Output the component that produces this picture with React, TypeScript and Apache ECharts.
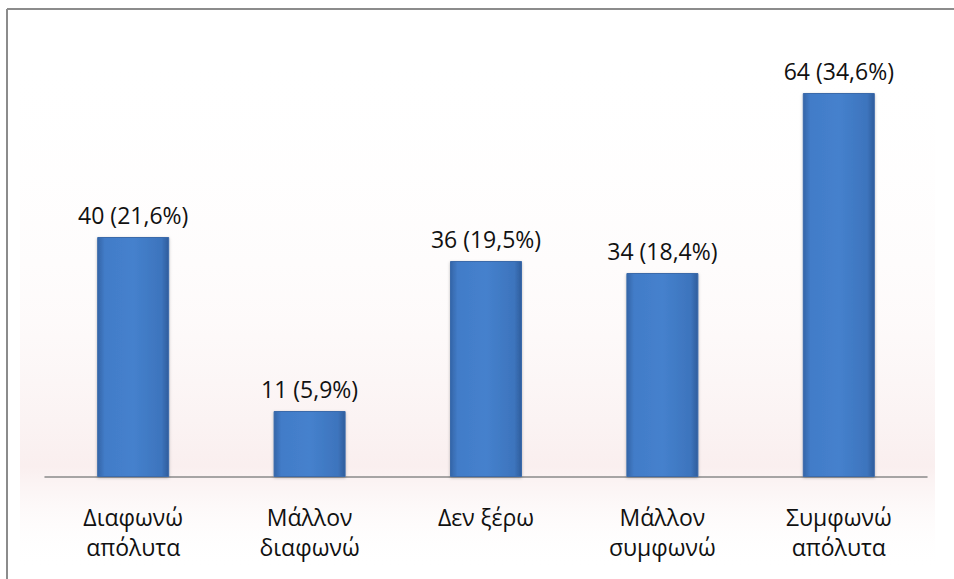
import React, { useEffect, useRef } from "react";
import * as echarts from "echarts";

const categories = ["Διαφωνώ\nαπόλυτα", "Μάλλον\nδιαφωνώ", "Δεν ξέρω", "Μάλλον\nσυμφωνώ", "Συμφωνώ\nαπόλυτα"];
const counts = [40, 11, 36, 34, 64];
const percents = ["21,6", "5,9", "19,5", "18,4", "34,6"];

export default function App() {
  const ref = useRef<HTMLDivElement>(null);
  useEffect(() => {
    const chart = echarts.init(ref.current!, null, { renderer: "svg" });
    const font = "'Open Sans', 'Noto Sans', sans-serif";
    chart.setOption({
      animation: false,
      backgroundColor: "#ffffff",
      graphic: [
        {
          type: "rect",
          z: -10,
          shape: { x: 20, y: 50, width: 915, height: 520 },
          style: {
            fill: new echarts.graphic.LinearGradient(0, 0, 0, 1, [
              { offset: 0, color: "rgba(255,255,255,0)" },
              { offset: 0.5, color: "rgba(250,240,240,0.3)" },
              { offset: 0.8, color: "rgba(246,228,228,0.6)" },
              { offset: 1, color: "rgba(255,255,255,0)" },
            ]),
          },
        },
        { type: "line", shape: { x1: 7, y1: 9, x2: 954, y2: 9 }, style: { stroke: "#8c8c8c", lineWidth: 2 } },
        { type: "line", shape: { x1: 7, y1: 9, x2: 7, y2: 579 }, style: { stroke: "#8c8c8c", lineWidth: 2 } },
      ],
      grid: { left: 45, right: 27, top: 57, bottom: 102, containLabel: false },
      xAxis: {
        type: "category",
        data: categories,
        axisLine: { show: true, lineStyle: { color: "#8a8a8a", width: 1.5 } },
        axisTick: { show: false },
        axisLabel: {
          color: "#111",
          fontSize: 23,
          fontFamily: font,
          lineHeight: 30,
          margin: 25,
          interval: 0,
        },
      },
      yAxis: { type: "value", min: 0, max: 70, show: false, splitLine: { show: false } },
      series: [
        {
          type: "bar",
          data: counts,
          barWidth: 72,
          itemStyle: {
            color: new echarts.graphic.LinearGradient(0, 0, 1, 0, [
              { offset: 0, color: "#3465a8" },
              { offset: 0.1, color: "#427cc8" },
              { offset: 0.5, color: "#4581cd" },
              { offset: 0.9, color: "#3d74bd" },
              { offset: 1, color: "#2f5d9c" },
            ]),
            borderColor: "#3a6aaa",
            borderWidth: 1,
            shadowColor: "rgba(0,0,0,0.25)",
            shadowBlur: 3,
            shadowOffsetY: 1,
          },
          label: {
            show: true,
            position: "top",
            distance: 11,
            color: "#111",
            fontSize: 23,
            fontFamily: font,
            formatter: (p: any) => `${counts[p.dataIndex]} (${percents[p.dataIndex]}%)`,
          },
        },
      ],
    });
    return () => chart.dispose();
  }, []);
  return <div ref={ref} style={{ width: 954, height: 579, position: "absolute", left: 0, top: 0 }} />;
}
